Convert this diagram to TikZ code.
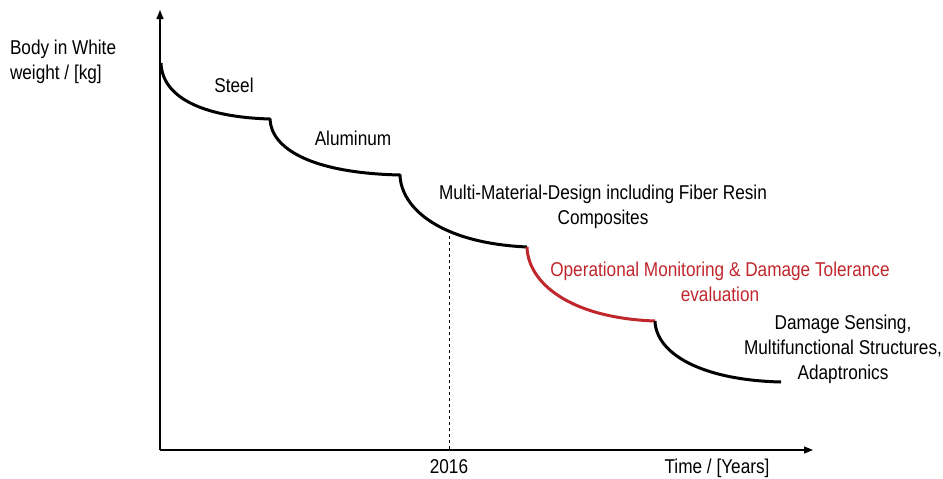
\documentclass[tikz,border=0pt]{standalone}
\usepackage{fontspec}
\setmainfont{Liberation Sans}[FakeStretch=0.86]
\usetikzlibrary{arrows.meta}
\definecolor{evalred}{RGB}{192,39,45}

\begin{document}
\begin{tikzpicture}[x=1pt,y=-1pt,inner sep=0pt,outer sep=0pt,
axis/.style={line width=1.2pt,-{Triangle[length=9pt,width=7pt]}},
weight/.style={line width=3pt,line join=round},
lbl/.style={font=\fontsize{20}{25}\selectfont,align=center}]
\useasboundingbox (0,0) rectangle (943,479);
% axes
\draw[axis] (160,450) -- (160,10);
\draw[axis] (160,450) -- (813,450);
\node[lbl,align=left,anchor=west] (ylab) at (10,62) {Body in White\\weight / [kg]};
\node[lbl] (xlab) at (717,468) {Time / [Years]};
% weight over time
\draw[weight] (161,63) .. controls (162,96) and (200,117) .. (270,119)
  .. controls (271,148) and (310,173) .. (400,175)
  .. controls (401,208) and (440,243) .. (527,247);
\draw[weight,evalred] (527,247) .. controls (528,283) and (570,318) .. (655,321);
\draw[weight] (655,321) .. controls (656,353) and (700,380) .. (781,382);
% today
\draw[dashed,line width=0.8pt] (449,236) -- (449,450);
\node[lbl] (year) at (449,467) {2016};
% material steps
\node[lbl] (steel) at (234,85) {Steel};
\node[lbl] (alu) at (353,138) {Aluminum};
\node[lbl] (mmd) at (603,207) {Multi-Material-Design including Fiber Resin\\Composites};
\node[lbl,text=evalred] (ops) at (720,282) {Operational Monitoring \& Damage Tolerance\\evaluation};
\node[lbl] (shm) at (843,349) {Damage Sensing,\\Multifunctional Structures,\\Adaptronics};
\end{tikzpicture}
\end{document}
